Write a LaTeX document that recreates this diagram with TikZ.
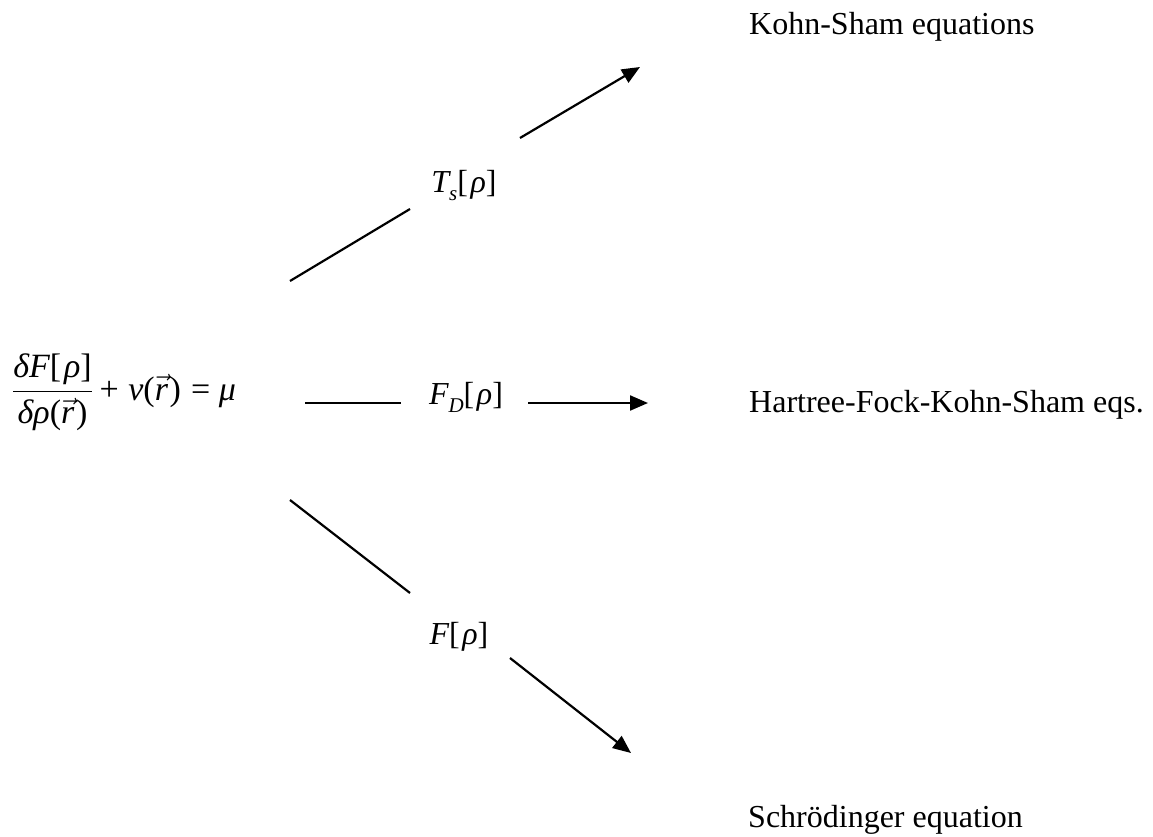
\documentclass[tikz,border=0pt]{standalone}
\usepackage{fix-cm}
\usepackage{fontspec}
\setmainfont{Liberation Serif}
\usetikzlibrary{arrows.meta}
\newcommand\vr{\ensuremath{\vec{\mbox{\itshape r}}}}
\newcommand\bgap{\hspace{0.08em}}
\begin{document}
\begin{tikzpicture}[x=1pt,y=-1pt,
  conn/.style={line width=2.2pt, draw=black},
  arr/.style={conn, -{Triangle[length=18pt,width=15pt]}},
  lbl/.style={inner sep=0pt, font=\fontsize{32}{38}\selectfont},
  eqn/.style={inner sep=0pt, font=\fontsize{34}{40}\selectfont}]
\useasboundingbox (0,0) rectangle (1153,837);
% equation
\node[eqn,anchor=west] (eq) at (12,392)
  {$\displaystyle\frac{\mbox{\itshape δF\upshape[\bgap\itshape ρ\upshape]}}{\mbox{\itshape δρ\upshape(}\vr\mbox{\upshape\hspace{0.05em})}}$\hspace{0.2em}+\hspace{0.28em}{\itshape v}(\vr\hspace{0.05em})\hspace{0.3em}=\hspace{0.25em}{\itshape μ}};
% functional labels
\node[lbl] (ts) at (464,186)
  {{\itshape T}\raisebox{-0.25em}{\fontsize{21}{21}\selectfont\itshape s}[\bgap{\itshape ρ}]};
\node[lbl] (fd) at (466,397)
  {{\itshape F}\raisebox{-0.25em}{\fontsize{21}{21}\selectfont\itshape D}[\bgap{\itshape ρ}]};
\node[lbl] (ff) at (459,637)
  {{\itshape F}[\bgap{\itshape ρ}]};
% results
\node[lbl,anchor=base west] (ks) at (749,35) {Kohn-Sham equations};
\node[lbl,anchor=base west] (hf) at (749,412) {Hartree-Fock-Kohn-Sham eqs.};
\node[lbl,anchor=base west] (sc) at (748,827) {Schrödinger equation};
% connector end points
\coordinate (a1) at (290,281); \coordinate (a2) at (410,209);
\coordinate (a3) at (520,138); \coordinate (a4) at (640,67);
\coordinate (b1) at (305,403); \coordinate (b2) at (401,403);
\coordinate (b3) at (528,403); \coordinate (b4) at (648,403);
\coordinate (c1) at (290,500); \coordinate (c2) at (410,593);
\coordinate (c3) at (510,658); \coordinate (c4) at (631,753);
\draw[conn] (a1) -- (a2);
\draw[arr] (a3) -- (a4);
\draw[conn] (b1) -- (b2);
\draw[arr] (b3) -- (b4);
\draw[conn] (c1) -- (c2);
\draw[arr] (c3) -- (c4);
\end{tikzpicture}
\end{document}
